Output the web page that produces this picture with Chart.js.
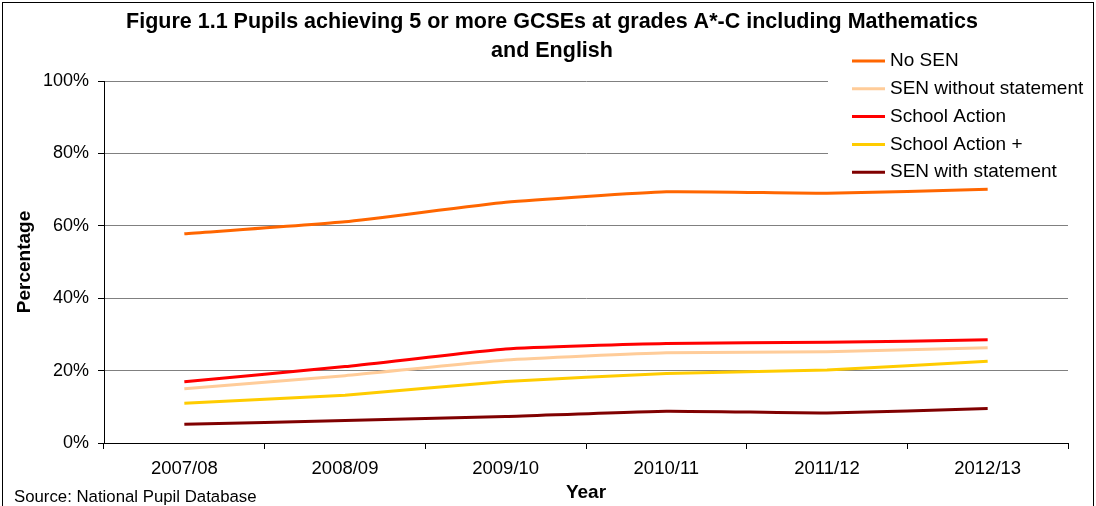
<!DOCTYPE html>
<html lang="en">
<head>
  <meta charset="UTF-8">
  <title>Figure 1.1</title>
  <script src="https://cdn.jsdelivr.net/npm/chart.js"></script>
  <style>
    body { margin: 0; background: #fff; }
    #wrap { width: 1096px; height: 506px; position: relative; }
  </style>
</head>
<body>
  <div id="wrap"><canvas id="gcseChart" width="1096" height="506"></canvas></div>

  <script>
    // data
    const years = ['2007/08', '2008/09', '2009/10', '2010/11', '2011/12', '2012/13'];
    const noSen = [57.8, 61.1, 66.5, 69.4, 69.0, 70.1];
    const senWithoutStatement = [15.0, 18.6, 22.9, 24.9, 25.2, 26.3];
    const schoolAction = [16.9, 21.1, 26.0, 27.5, 27.8, 28.5];
    const schoolActionPlus = [11.0, 13.2, 17.0, 19.2, 20.2, 22.6];
    const senWithStatement = [5.2, 6.2, 7.3, 8.8, 8.3, 9.5];
    const yTicks = [0, 20, 40, 60, 80, 100];

    const FONT = 'Arial, "Liberation Sans", sans-serif';

    function line(label, data, color) {
      return {
        label: label,
        data: data,
        borderColor: color,
        backgroundColor: color,
        borderWidth: 3,
        pointRadius: 0,
        tension: 0.15,
        fill: false
      };
    }

    // title, legend box, source note and outer frame
    const decorations = {
      id: 'decorations',
      beforeDatasetsDraw(chart) {
        const ctx = chart.ctx;
        ctx.save();
        ctx.fillStyle = '#fff';
        ctx.fillRect(828, 20, 262, 166);
        ctx.restore();
      },
      afterDraw(chart) {
        const ctx = chart.ctx;
        ctx.save();
        ctx.strokeStyle = '#000';
        ctx.lineWidth = 1;
        ctx.strokeRect(2.5, 2.5, 1091, 520);

        ctx.fillStyle = '#000';
        ctx.textAlign = 'center';
        ctx.textBaseline = 'middle';
        ctx.font = 'bold 21.5px ' + FONT;
        ctx.fillText('Figure 1.1 Pupils achieving 5 or more GCSEs at grades A*-C including Mathematics', 552, 22);
        ctx.fillText('and English', 552, 51);

        ctx.textAlign = 'left';
        ctx.font = '16.8px ' + FONT;
        ctx.fillText('Source: National Pupil Database', 14, 497);

        ctx.font = '19px ' + FONT;
        chart.data.datasets.forEach((ds, i) => {
          const y = 61 + i * 27.8;
          ctx.strokeStyle = ds.borderColor;
          ctx.lineWidth = 3;
          ctx.beginPath();
          ctx.moveTo(852, y);
          ctx.lineTo(885, y);
          ctx.stroke();
          ctx.fillStyle = '#000';
          ctx.fillText(ds.label, 890, y);
        });
        ctx.restore();
      }
    };

    new Chart(document.getElementById('gcseChart'), {
      type: 'line',
      data: {
        labels: years,
        datasets: [
          line('No SEN', noSen, '#FF6600'),
          line('SEN without statement', senWithoutStatement, '#FFCC99'),
          line('School Action', schoolAction, '#FF0000'),
          line('School Action +', schoolActionPlus, '#FFCC00'),
          line('SEN with statement', senWithStatement, '#800000')
        ]
      },
      options: {
        responsive: false,
        animation: false,
        layout: { padding: { top: 81, right: 28, left: 0, bottom: 0 } },
        plugins: {
          legend: { display: false },
          title: { display: false },
          tooltip: { enabled: false }
        },
        scales: {
          x: {
            offset: true,
            afterFit(scale) { scale.height = 63; },
            grid: { offset: true, drawOnChartArea: false, drawTicks: true, tickLength: 6, color: '#000' },
            border: { color: '#000', width: 1 },
            ticks: { color: '#000', font: { family: FONT, size: 18.5 }, padding: 9, maxRotation: 0 },
            title: {
              display: true,
              text: 'Year',
              color: '#000',
              font: { family: FONT, size: 19, weight: 'bold' },
              padding: { top: 0, bottom: 2 }
            }
          },
          y: {
            min: 0,
            max: 100,
            afterFit(scale) { scale.width = 104; },
            afterBuildTicks(scale) { scale.ticks = yTicks.map(v => ({ value: v })); },
            grid: { color: '#808080', tickColor: '#000', tickLength: 6, lineWidth: 1 },
            border: { color: '#000', width: 1 },
            ticks: {
              color: '#000',
              font: { family: FONT, size: 18 },
              padding: 9,
              callback: v => v + '%'
            },
            title: {
              display: true,
              text: 'Percentage',
              color: '#000',
              font: { family: FONT, size: 19, weight: 'bold' },
              padding: { top: 13, bottom: 0 }
            }
          }
        }
      },
      plugins: [decorations]
    });
  </script>
</body>
</html>
